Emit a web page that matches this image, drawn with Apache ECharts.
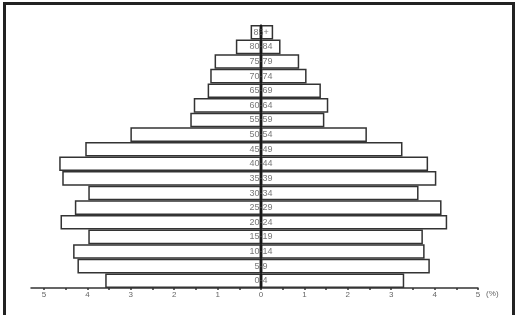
<!DOCTYPE html>
<html>
<head>
<meta charset="utf-8">
<style>html,body{margin:0;padding:0;background:#fff;}#c{width:517px;height:315px;}</style>
<script src="https://cdn.jsdelivr.net/npm/echarts@6/dist/echarts.min.js"></script>
</head>
<body>
<div id="c"></div>
<script>
var ageGroups = ['0-4','5-9','10-14','15-19','20-24','25-29','30-34','35-39','40-44','45-49','50-54','55-59','60-64','65-69','70-74','75-79','80-84','85+'];
var leftValues = [3.59, 4.23, 4.33, 3.98, 4.62, 4.29, 3.98, 4.58, 4.65, 4.05, 3.01, 1.63, 1.55, 1.23, 1.17, 1.07, 0.58, 0.24];
var rightValues = [3.30, 3.89, 3.77, 3.73, 4.29, 4.16, 3.63, 4.04, 3.85, 3.26, 2.44, 1.46, 1.55, 1.38, 1.05, 0.88, 0.45, 0.28];
var tickLabels = [-5,-4,-3,-2,-1,0,1,2,3,4,5];
var minorTicks = [-5,-4.5,-4,-3.5,-3,-2.5,-2,-1.5,-1,-0.5,0,0.5,1,1.5,2,2.5,3,3.5,4,4.5,5];
var unitLabel = '(%)';

var chart = echarts.init(document.getElementById('c'), null, {renderer:'canvas'});
var barStyle = {color:'#fff', borderColor:'#333', borderWidth:1.5};
var font = 'Liberation Sans, Arial, sans-serif';
chart.setOption({
  animation:false,
  grid:{left:31, right:39, top:25, bottom:27, containLabel:false},
  xAxis:{
    type:'value', min:-5.3, max:5,
    splitLine:{show:false},
    axisLine:{show:true, lineStyle:{color:'#333', width:1.5}},
    axisTick:{show:true, customValues:minorTicks, length:2, lineStyle:{color:'#333', width:1.5}},
    axisLabel:{customValues:tickLabels, formatter:function(v){return String(Math.abs(v));}, color:'#666', fontSize:8, fontFamily:font, margin:3},
    name:unitLabel, nameLocation:'end', nameGap:6,
    nameTextStyle:{color:'#666', fontSize:8, fontFamily:font, verticalAlign:'top', padding:[2,0,0,0]}
  },
  yAxis:{
    type:'category', data:ageGroups, z:10,
    axisLine:{show:true, onZero:true, lineStyle:{color:'#111', width:1.5}},
    axisTick:{show:false},
    axisLabel:{show:false}
  },
  series:[
    {type:'bar', data:leftValues.map(function(v){return -v;}), barCategoryGap:0, barGap:'-100%', itemStyle:barStyle, silent:true},
    {type:'bar', data:rightValues, barCategoryGap:0, barGap:'-100%', itemStyle:barStyle, silent:true},
    {type:'scatter', z:20, symbolSize:0, silent:true,
     data:ageGroups.map(function(a){return [0, a];}),
     label:{show:true, position:'inside', formatter:function(p){return p.value[1];}, color:'#555', fontSize:9, fontFamily:font}}
  ],
  graphic:[
    {type:'rect', shape:{x:4.5, y:3.5, width:509, height:330}, style:{fill:'none', stroke:'#222', lineWidth:3}, z:100}
  ]
});
</script>
</body>
</html>
